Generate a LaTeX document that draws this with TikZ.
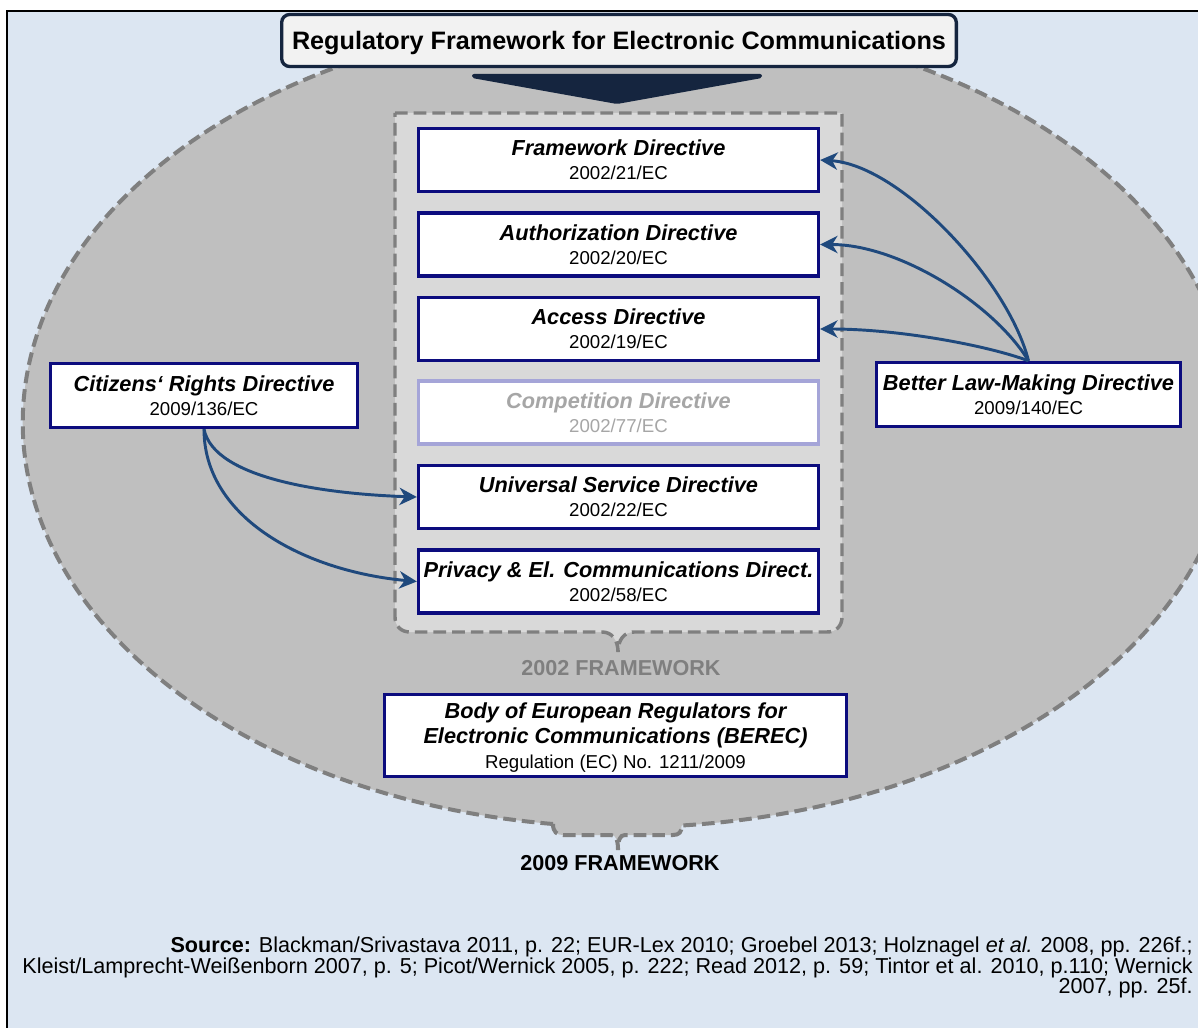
\documentclass[tikz,border=0pt]{standalone}
\usepackage{fontspec}
\setmainfont{Liberation Sans}
\usetikzlibrary{arrows.meta}

\definecolor{pagebg}{HTML}{DCE6F2}
\definecolor{ovalfill}{HTML}{BFBFBF}
\definecolor{panelfill}{HTML}{D9D9D9}
\definecolor{dashgray}{HTML}{7F7F7F}
\definecolor{boxnavy}{HTML}{0C0C7E}
\definecolor{fadedline}{HTML}{A5A5D8}
\definecolor{fadedtext}{HTML}{A6A6A6}
\definecolor{linkblue}{HTML}{1F497D}
\definecolor{headnavy}{HTML}{15253F}
\definecolor{headfill}{HTML}{F2F2F2}

\newcommand{\DirTitle}[1]{{\bfseries\itshape #1}}
\newcommand{\DirCode}[1]{{\fontsize{14}{18}\selectfont #1}}

\begin{document}
\begin{tikzpicture}[x=0.75pt,y=-0.75pt,
  directive/.style={draw=boxnavy, line width=2.5pt, fill=white, inner sep=0pt,
    align=center, text depth=0pt, font=\fontsize{16.3}{18}\selectfont},
  mainbox/.style={directive, minimum width=300pt, minimum height=47.25pt},
  faded/.style={draw=fadedline, text=fadedtext},
  link/.style={draw=linkblue, line width=2.2pt,
    -{Stealth[length=13pt,width=13pt,inset=4pt]}},
  dashedline/.style={draw=dashgray, dash pattern=on 9.5pt off 4.5pt},
  framelabel/.style={inner sep=0pt, text depth=0pt,
    font=\fontsize{16.2}{18}\selectfont\bfseries},
  ]

% page area and frame
\useasboundingbox (0,0) rectangle (1198,1027);
\clip (0,0) rectangle (1198,1027);
\fill[white] (0,0) rectangle (1198,1027);
\draw[black, line width=1.6pt, fill=pagebg] (7,11) rectangle (1240,1070);

% 2009 framework: large oval with a small brace at the bottom
\path[fill=ovalfill, dashedline, line width=3pt]
  (553,824) arc[start angle=97.1, end angle=444.9, x radius=605, y radius=405]
  .. controls (682,832) and (679,835) .. (673,835) -- (625,835)
  .. controls (620,835) and (618,840) .. (618,850)
  .. controls (618,840) and (616,835) .. (611,835) -- (563,835)
  .. controls (557,835) and (553,832) .. (553,824) -- cycle;

% 2002 framework: dashed panel with brace tip
\path[fill=panelfill, dashedline, line width=2.6pt]
  (395,113) -- (842,113) -- (842,617)
  .. controls (842,626) and (836,632) .. (827,632) -- (634,632)
  .. controls (624,632) and (618,640) .. (618,652)
  .. controls (618,640) and (612,632) .. (602,632) -- (410,632)
  .. controls (401,632) and (395,626) .. (395,617) -- cycle;

% heading and its pointer
\fill[headnavy, rounded corners=1.5pt]
  (472,74) -- (762,74) -- (762,78) -- (617,104) -- (472,78) -- cycle;
\node[draw=headnavy, fill=headfill, line width=2.5pt, rounded corners=6pt,
  minimum width=506pt, minimum height=39pt, inner sep=0pt, text depth=0pt,
  font=\fontsize{18.9}{22}\selectfont\bfseries] (head) at (619,40.5)
  {Regulatory Framework for Electronic Communications};

% directives of the 2002 framework
\node[mainbox] (fw) at (618.5,160)
  {\DirTitle{Framework Directive}\\\DirCode{2002/21/EC}};
\node[mainbox] (auth) at (618.5,244.5)
  {\DirTitle{Authorization Directive}\\\DirCode{2002/20/EC}};
\node[mainbox] (acc) at (618.5,329)
  {\DirTitle{Access Directive}\\\DirCode{2002/19/EC}};
\node[mainbox, faded] (comp) at (618.5,412.5)
  {\DirTitle{Competition Directive}\\\DirCode{2002/77/EC}};
\node[mainbox] (usd) at (618.5,497)
  {\DirTitle{Universal Service Directive}\\\DirCode{2002/22/EC}};
\node[mainbox] (pec) at (618.5,581.5)
  {\DirTitle{Privacy \& El. Communications Direct.}\\\DirCode{2002/58/EC}};

% amending directives of 2009
\node[directive, minimum width=230.25pt, minimum height=48pt] (crd) at (204,395.5)
  {\DirTitle{Citizens‘ Rights Directive}\\\DirCode{2009/136/EC}};
\node[directive, minimum width=228pt, minimum height=48pt] (bld) at (1028.5,394.5)
  {\DirTitle{Better Law-Making Directive}\\\DirCode{2009/140/EC}};

% BEREC regulation
\node[directive, minimum width=346.5pt, minimum height=61.5pt,
  font=\fontsize{16.3}{18.75}\selectfont] (berec) at (615.5,735.5)
  {\DirTitle{Body of European Regulators for}\\
   \DirTitle{Electronic Communications (BEREC)}\\
   {\fontsize{14}{18.75}\selectfont Regulation (EC) No. 1211/2009}};

% framework labels
\node[framelabel, text=dashgray] (lab2002) at (621,668) {2002 FRAMEWORK};
\node[framelabel, text=black] (lab2009) at (620,863) {2009 FRAMEWORK};

% amendment links
\draw[link] (bld.north) .. controls +(-20,-80) and +(80,5) .. (fw.east);
\draw[link] (bld.north) .. controls +(-34,-56) and +(80,0) .. (auth.east);
\draw[link] (bld.north) .. controls +(-40,-15) and +(80,0) .. (acc.east);
\draw[link] (crd.south) .. controls +(10,50) and +(-90,-3) .. (usd.west);
\draw[link] (crd.south) .. controls +(0,90) and +(-110,-10) .. (pec.west);

% sources
\node[anchor=north east, align=right, inner sep=0pt,
  font=\fontsize{16.2}{15.2}\selectfont] (src) at (1193,937)
  {\textbf{Source:} Blackman/Srivastava 2011, p. 22; EUR-Lex 2010; Groebel 2013; Holznagel \textit{et al.} 2008, pp. 226f.;\\
   Kleist/Lamprecht-Weißenborn 2007, p. 5; Picot/Wernick 2005, p. 222; Read 2012, p. 59; Tintor et al. 2010, p.110; Wernick\\
   2007, pp. 25f.};
\end{tikzpicture}
\end{document}
